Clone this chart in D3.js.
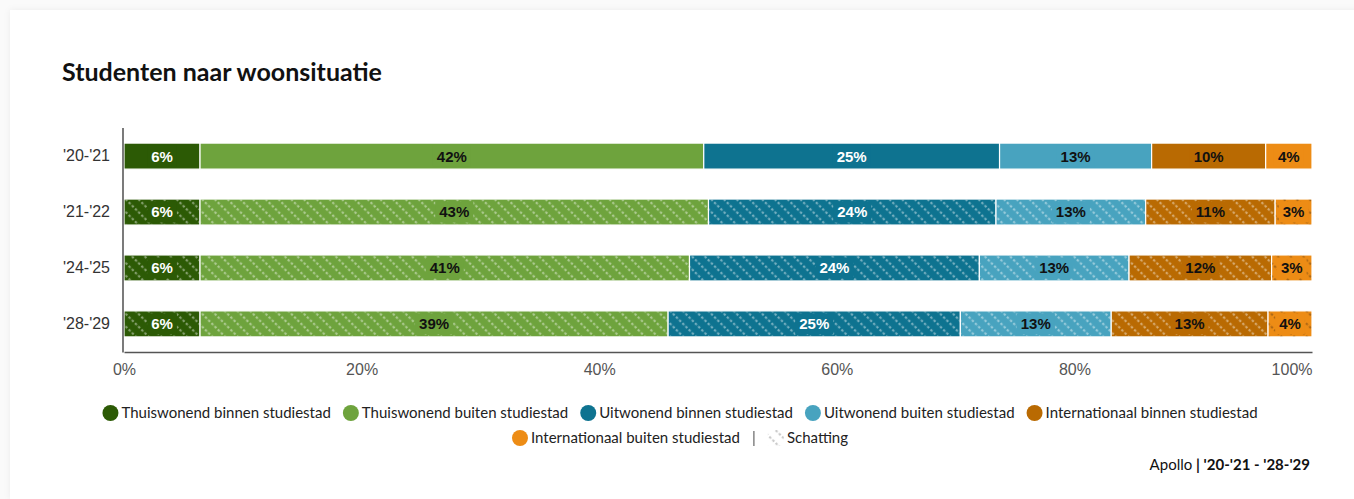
<!DOCTYPE html>
<html><head><meta charset="utf-8">
<script src="https://cdn.jsdelivr.net/npm/d3@7"></script>
<style>
html,body{margin:0;padding:0;background:#fafafa;}
svg{display:block;}
</style></head>
<body>
<svg id="chart" width="1354" height="499"></svg>
<script>
const categories = ["'20-'21", "'21-'22", "'24-'25", "'28-'29"];
const seriesNames = ["Thuiswonend binnen studiestad", "Thuiswonend buiten studiestad", "Uitwonend binnen studiestad", "Uitwonend buiten studiestad", "Internationaal binnen studiestad", "Internationaal buiten studiestad"];
const thuisBinnen = [6.4, 6.4, 6.4, 6.4];
const thuisBuiten = [42.4, 42.8, 41.2, 39.4];
const uitBinnen = [24.9, 24.2, 24.4, 24.6];
const uitBuiten = [12.8, 12.6, 12.6, 12.7];
const intBinnen = [9.6, 10.9, 12.0, 13.2];
const intBuiten = [3.9, 3.1, 3.4, 3.7];
const estimate = [false, true, true, true];
const xTicks = [0, 20, 40, 60, 80, 100];
const colors = ["#2c5a05", "#6ea33d", "#0e7390", "#48a3bf", "#b96a02", "#ed8c15"];
const labelColors = ["#fff", "#111", "#fff", "#111", "#111", "#111"];
const seriesValues = [thuisBinnen, thuisBuiten, uitBinnen, uitBuiten, intBinnen, intBuiten];

const svg = d3.select("#chart");
const defs = svg.append("defs");
const flt = defs.append("filter").attr("id","shadow").attr("x","-5%").attr("y","-5%").attr("width","110%").attr("height","110%");
flt.append("feDropShadow").attr("dx",0).attr("dy",0).attr("stdDeviation",3).attr("flood-color","#000").attr("flood-opacity",0.06);
svg.append("rect").attr("x",10).attr("y",10).attr("width",1360).attr("height",489).attr("fill","#fff").attr("filter","url(#shadow)");

// hatch patterns
function makePattern(id, stroke){
  const p = defs.append("pattern").attr("id", id).attr("patternUnits","userSpaceOnUse")
    .attr("width", 9).attr("height", 9).attr("patternTransform","rotate(-45)");
  p.append("line").attr("x1",2).attr("y1",0).attr("x2",2).attr("y2",9)
    .attr("stroke", stroke).attr("stroke-width",2.2).attr("stroke-dasharray","2.5,2");
}
makePattern("hatchLight", "rgba(255,255,255,0.42)");
makePattern("hatchDark", "rgba(60,40,20,0.35)");
makePattern("hatchLegend", "rgba(190,190,190,0.8)");

svg.append("text").attr("x",62).attr("y",81).text("Studenten naar woonsituatie")
  .attr("font-family","Lato, 'Open Sans', sans-serif").attr("font-weight",700).attr("font-size",25).attr("fill","#111");

const x = d3.scaleLinear().domain([0,100]).range([124,1312]);
const y = d3.scaleBand().domain(categories).range([128,352]).paddingInner(0.535).paddingOuter(0.27);

// stack data
const rows = categories.map((c,i)=>{ const o={cat:c, est:estimate[i]}; seriesNames.forEach((s,j)=>o[s]=seriesValues[j][i]); return o; });
const stack = d3.stack().keys(seriesNames)(rows);

const g = svg.append("g");
stack.forEach((layer, si)=>{
  const lg = g.append("g");
  layer.forEach((d, ri)=>{
    const x0 = x(d[0]), x1 = x(d[1]);
    const yy = y(categories[ri]), h = y.bandwidth();
    lg.append("rect").attr("x",x0).attr("y",yy).attr("width",x1-x0).attr("height",h)
      .attr("fill",colors[si]).attr("stroke","#fff").attr("stroke-width",1.2);
    if (estimate[ri]) {
      lg.append("rect").attr("x",x0+0.6).attr("y",yy+0.6).attr("width",x1-x0-1.2).attr("height",h-1.2)
        .attr("fill", si===5 ? "url(#hatchDark)" : "url(#hatchLight)");
    }
    const v = d[1]-d[0];
    const label = Math.round(v) + "%";
    const cx = (x0+x1)/2, cy = yy + h/2;
    const t = lg.append("text").attr("x",cx).attr("y",cy).attr("dy","0.36em").attr("text-anchor","middle")
      .attr("font-family","'Liberation Sans', Arial, sans-serif").attr("font-weight",700).attr("font-size",15)
      .attr("fill",labelColors[si]).text(label);
    const bb = t.node().getBBox();
    lg.insert("rect", function(){return t.node();}).attr("x",bb.x-4).attr("y",yy+2.5).attr("width",bb.width+8).attr("height",h-5)
      .attr("fill",colors[si]);
  });
});

// axes
const xAxis = svg.append("g").attr("transform","translate(0,352)")
  .call(d3.axisBottom(x).tickValues(xTicks).tickFormat(d=>d+"%").tickSize(0).tickPadding(12));
xAxis.select(".domain").attr("stroke","#555").attr("stroke-width",1.3);
xAxis.selectAll("text").attr("font-family","'Liberation Sans', Arial, sans-serif").attr("font-size",16).attr("fill","#555");
xAxis.selectAll(".tick").filter(d=>d===100).select("text").attr("text-anchor","end");

svg.append("line").attr("x1",123).attr("x2",123).attr("y1",128).attr("y2",352.5).attr("stroke","#333").attr("stroke-width",1.3);
const yAxis = svg.append("g").attr("transform","translate(110,0)")
  .call(d3.axisLeft(y).tickSize(0).tickPadding(0));
yAxis.select(".domain").remove();
yAxis.selectAll("text").attr("font-family","'Liberation Sans', Arial, sans-serif").attr("font-size",16).attr("fill","#333");

// legend
const legendFont = "Lato, 'Open Sans', sans-serif";
function legendRow(items, cy){
  const lg = svg.append("g");
  let cur = 0;
  items.forEach((it)=>{
    const grp = lg.append("g");
    if (it.type==="circle"){
      grp.append("circle").attr("cx",8).attr("cy",0).attr("r",8).attr("fill",it.color);
      const t = grp.append("text").attr("x",19).attr("y",0).attr("dy","0.35em").attr("font-family",legendFont).attr("font-size",15).attr("fill","#222").text(it.label);
      const w = 19 + t.node().getComputedTextLength();
      grp.attr("transform",`translate(${cur},0)`); cur += w + 12;
    } else if (it.type==="sep"){
      grp.append("line").attr("x1",0).attr("x2",0).attr("y1",-7).attr("y2",8).attr("stroke","#666").attr("stroke-width",1.2);
      grp.attr("transform",`translate(${cur+2},0)`); cur += 16;
    } else {
      grp.append("rect").attr("x",0).attr("y",-8).attr("width",16).attr("height",16).attr("fill","url(#hatchLegend)");
      const t = grp.append("text").attr("x",19).attr("y",0).attr("dy","0.35em").attr("font-family",legendFont).attr("font-size",15).attr("fill","#222").text(it.label);
      const w = 19 + t.node().getComputedTextLength();
      grp.attr("transform",`translate(${cur},0)`); cur += w;
    }
  });
  const total = cur - (items[items.length-1].type==="circle" ? 12 : 0);
  lg.attr("transform",`translate(${680 - total/2},${cy})`);
}
legendRow(seriesNames.slice(0,5).map((s,i)=>({type:"circle",label:s,color:colors[i]})), 413);
legendRow([{type:"circle",label:seriesNames[5],color:colors[5]},{type:"sep"},{type:"hatch",label:"Schatting"}], 438);

// footer
const ft = svg.append("text").attr("x",1310).attr("y",470).attr("text-anchor","end")
  .attr("font-family",legendFont).attr("font-size",15).attr("fill","#111");
ft.append("tspan").text("Apollo ");
ft.append("tspan").attr("font-weight",700).text("| '20-'21 - '28-'29");
</script>
</body></html>
